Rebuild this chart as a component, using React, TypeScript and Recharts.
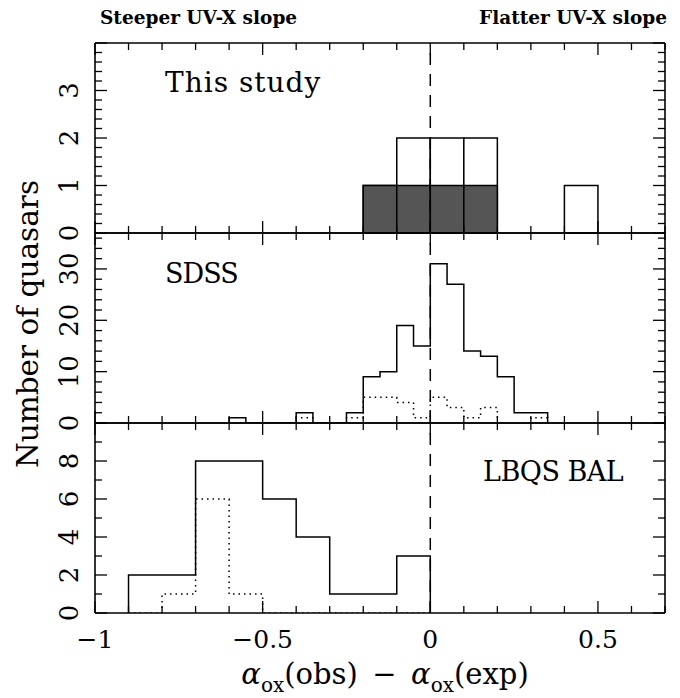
import React from 'react';
import { ComposedChart, Line, XAxis, YAxis, ReferenceArea, ReferenceLine } from 'recharts';

// ---- data (bin left edges + counts) ----
const studyEdges = [-0.2, -0.1, 0.0, 0.1, 0.4];
const studyAll = [1, 2, 2, 2, 1];
const studyFilledEdges = [-0.2, -0.1, 0.0, 0.1];
const studyFilled = [1, 1, 1, 1];
const studyBin = 0.1;

const sdssEdges = [-0.6, -0.55, -0.5, -0.45, -0.4, -0.35, -0.3, -0.25, -0.2, -0.15, -0.1, -0.05, 0.0, 0.05, 0.1, 0.15, 0.2, 0.25, 0.3];
const sdssAll = [1, 0, 0, 0, 2, 0, 0, 2, 9, 10, 19, 15, 31, 27, 14, 13, 9, 2, 2];
const sdssDotted = [0, 0, 0, 0, 1, 0, 0, 1, 5, 5, 4, 1, 5, 3, 1, 3, 0, 0, 1];
const sdssBin = 0.05;

const lbqsEdges = [-0.9, -0.8, -0.7, -0.6, -0.5, -0.4, -0.3, -0.2, -0.1];
const lbqsAll = [2, 2, 8, 8, 6, 4, 1, 1, 3];
const lbqsDotted = [0, 1, 6, 1, 0, 0, 0, 0, 0];
const lbqsBin = 0.1;

// ---- axes / ticks ----
const X_MIN = -1;
const X_MAX = 0.7;
const xMajor = [-1, -0.5, 0, 0.5];
const xMinor = [-1, -0.9, -0.8, -0.7, -0.6, -0.5, -0.4, -0.3, -0.2, -0.1, 0, 0.1, 0.2, 0.3, 0.4, 0.5, 0.6, 0.7];
const xLabels = ['\u22121', '\u22120.5', '0', '0.5'];

const topMajor = [0, 1, 2, 3, 4];
const topLabels = [0, 1, 2, 3];
const midMajor = [0, 10, 20, 30];
const midLabels = [0, 10, 20, 30];
const botMajor = [0, 2, 4, 6, 8, 10];
const botLabels = [0, 2, 4, 6, 8];

const range = (a: number, b: number, step: number) => {
  const out: number[] = [];
  for (let i = 0; a + i * step <= b + 1e-9; i++) out.push(+(a + i * step).toFixed(4));
  return out;
};

const SERIF = '"DejaVu Serif", serif';
const LEFT = 95;
const RIGHT = 15;
const PLOT_W = 680 - LEFT - RIGHT;
const PANEL_H = 190;
const MAJ = 12;
const MIN = 7;

type Pt = { x: number; y: number };

// outline of a histogram as step points
const stepPoints = (edges: number[], counts: number[], width: number): Pt[] => {
  const pts: Pt[] = [{ x: edges[0], y: 0 }];
  edges.forEach((e, i) => pts.push({ x: e, y: counts[i] }));
  const end = +(edges[edges.length - 1] + width).toFixed(4);
  pts.push({ x: end, y: counts[counts.length - 1] }, { x: end, y: 0 });
  return pts;
};

const YLabel = (labels: number[]) => (props: any) => {
  const x = Number(props.x);
  const y = Number(props.y);
  const v = Number(props.payload.value);
  if (!labels.includes(v)) return <g />;
  return (
    <text x={x - 17} y={y} transform={`rotate(-90 ${x - 17} ${y})`} textAnchor="middle"
      fontFamily={SERIF} fontSize={26} fill="#000" stroke="none">{v}</text>
  );
};

const XLabel = (show: boolean) => (props: any) => {
  const x = Number(props.x);
  const y = Number(props.y);
  const i = xMajor.indexOf(Number(props.payload.value));
  if (!show || i < 0) return <g />;
  return (
    <text x={x} y={y + 35} textAnchor="middle" fontFamily={SERIF} fontSize={25} fill="#000" stroke="none">{xLabels[i]}</text>
  );
};

// frame lines and labels (each axis is 1px, margins hand that pixel back)
function frameAxes(yMax: number, yLabels: number[], showX: boolean) {
  const line = { stroke: '#000', strokeWidth: 1.6 };
  const xc = { type: 'number' as const, domain: [X_MIN, X_MAX], allowDataOverflow: true, height: 1, interval: 0 as const,
    ticks: xMajor, tickSize: 0, tickMargin: 0, tickLine: false, axisLine: line, stroke: '#000' };
  const yc = { type: 'number' as const, domain: [0, yMax], allowDataOverflow: true, width: 1, interval: 0 as const,
    ticks: yLabels, tickSize: 0, tickMargin: 0, tickLine: false, axisLine: line, stroke: '#000' };
  return [
    <XAxis key="x" xAxisId="x" dataKey="x" orientation="bottom" tick={XLabel(showX)} {...xc} />,
    <XAxis key="xt" xAxisId="xt" orientation="top" tick={XLabel(false)} {...xc} />,
    <YAxis key="y" yAxisId="y" orientation="left" tick={YLabel(yLabels)} {...yc} />,
    <YAxis key="yr" yAxisId="yr" orientation="right" tick={YLabel([])} {...yc} />,
  ];
}

// inward tick marks on all four sides, as short reference segments
function frameTicks(yMax: number, yMajor: number[], yMinor: number[]) {
  const dx = (X_MAX - X_MIN) / PLOT_W;
  const dy = yMax / PANEL_H;
  const seg = (key: string, a: Pt, b: Pt) => (
    <ReferenceLine key={key} xAxisId="x" yAxisId="y" segment={[a, b]} stroke="#000" strokeWidth={1.3} ifOverflow="visible" />
  );
  const out: React.ReactNode[] = [];
  xMinor.forEach((v) => {
    const len = (xMajor.includes(v) ? MAJ : MIN) * dy;
    out.push(seg(`b${v}`, { x: v, y: 0 }, { x: v, y: len }));
    out.push(seg(`t${v}`, { x: v, y: yMax }, { x: v, y: yMax - len }));
  });
  yMinor.forEach((v) => {
    const len = (yMajor.includes(v) ? MAJ : MIN) * dx;
    out.push(seg(`l${v}`, { x: X_MIN, y: v }, { x: X_MIN + len, y: v }));
    out.push(seg(`r${v}`, { x: X_MAX, y: v }, { x: X_MAX - len, y: v }));
  });
  return out;
}

const Panel = ({ top, mb = 10, children }: { top: number; mb?: number; children: React.ReactNode }) => (
  <div style={{ position: 'absolute', left: 0, top: top - 10 }}>
    <ComposedChart width={680} height={PANEL_H + 10 + mb}
      margin={{ top: 9, right: RIGHT - 1, bottom: mb - 1, left: LEFT - 1 }}>
      {children}
    </ComposedChart>
  </div>
);

const zeroLine = (
  <ReferenceLine key="zero" xAxisId="x" yAxisId="y" x={0} stroke="#000" strokeWidth={1.5} strokeDasharray="12 9" />
);

const solid = (key: string, pts: Pt[]) => (
  <Line key={key} xAxisId="x" yAxisId="y" data={pts} dataKey="y" type="stepAfter" stroke="#000"
    strokeWidth={1.5} dot={false} activeDot={false} isAnimationActive={false} />
);

const dotted = (key: string, pts: Pt[]) => (
  <Line key={key} xAxisId="x" yAxisId="y" data={pts} dataKey="y" type="stepAfter" stroke="#000"
    strokeWidth={1.5} strokeDasharray="1.5 4" dot={false} activeDot={false} isAnimationActive={false} />
);

export default function App() {
  return (
    <div style={{ position: 'absolute', left: 0, top: 0, width: 680, height: 698, background: '#fff', overflow: 'hidden' }}>
      <Panel top={43}>
        {frameAxes(4, topLabels, false)}
        {zeroLine}
        {studyEdges.map((e, i) => (
          <ReferenceArea key={`a${i}`} xAxisId="x" yAxisId="y" x1={e} x2={e + studyBin} y1={0} y2={studyAll[i]}
            fill="#fff" fillOpacity={1} stroke="#000" strokeWidth={1.5} ifOverflow="visible" />
        ))}
        {studyFilledEdges.map((e, i) => (
          <ReferenceArea key={`f${i}`} xAxisId="x" yAxisId="y" x1={e} x2={e + studyBin} y1={0} y2={studyFilled[i]}
            fill="#555555" fillOpacity={1} stroke="#000" strokeWidth={1.5} ifOverflow="visible" />
        ))}
        {frameTicks(4, topMajor, range(0, 4, 0.2))}
      </Panel>

      <Panel top={233}>
        {frameAxes(37, midLabels, false)}
        {zeroLine}
        {solid('sa', stepPoints(sdssEdges, sdssAll, sdssBin))}
        {dotted('sd', stepPoints(sdssEdges, sdssDotted, sdssBin))}
        {frameTicks(37, midMajor, range(0, 36, 2))}
      </Panel>

      <Panel top={423} mb={60}>
        {frameAxes(10, botLabels, true)}
        {zeroLine}
        {solid('la', stepPoints(lbqsEdges, lbqsAll, lbqsBin))}
        {dotted('ld', stepPoints(lbqsEdges, lbqsDotted, lbqsBin))}
        {frameTicks(10, botMajor, range(0, 10, 1))}
      </Panel>

      <svg width={680} height={698} style={{ position: 'absolute', left: 0, top: 0, pointerEvents: 'none' }}>
        <g fontFamily={SERIF} fill="#000">
          <text x={100} y={24} fontSize={18.5} fontWeight="bold">Steeper UV-X slope</text>
          <text x={667} y={24} fontSize={18.5} fontWeight="bold" textAnchor="end">Flatter UV-X slope</text>
          <text x={165} y={92} fontSize={28} letterSpacing={1}>This study</text>
          <text x={165} y={283} fontSize={27} letterSpacing={-1}>SDSS</text>
          <text x={483} y={481} fontSize={27} letterSpacing={-0.5}>LBQS BAL</text>
          <text x={38} y={324} fontSize={29.5} textAnchor="middle" transform="rotate(-90 38 324)">Number of quasars</text>
          <text x={385} y={684} fontSize={29} textAnchor="middle">
            <tspan fontStyle="italic">α</tspan>
            <tspan fontSize={20} dy={8}>ox</tspan>
            <tspan dy={-8}>(obs){'\u2002\u2212\u2002'}</tspan>
            <tspan fontStyle="italic">α</tspan>
            <tspan fontSize={20} dy={8}>ox</tspan>
            <tspan dy={-8}>(exp)</tspan>
          </text>
        </g>
      </svg>
    </div>
  );
}
